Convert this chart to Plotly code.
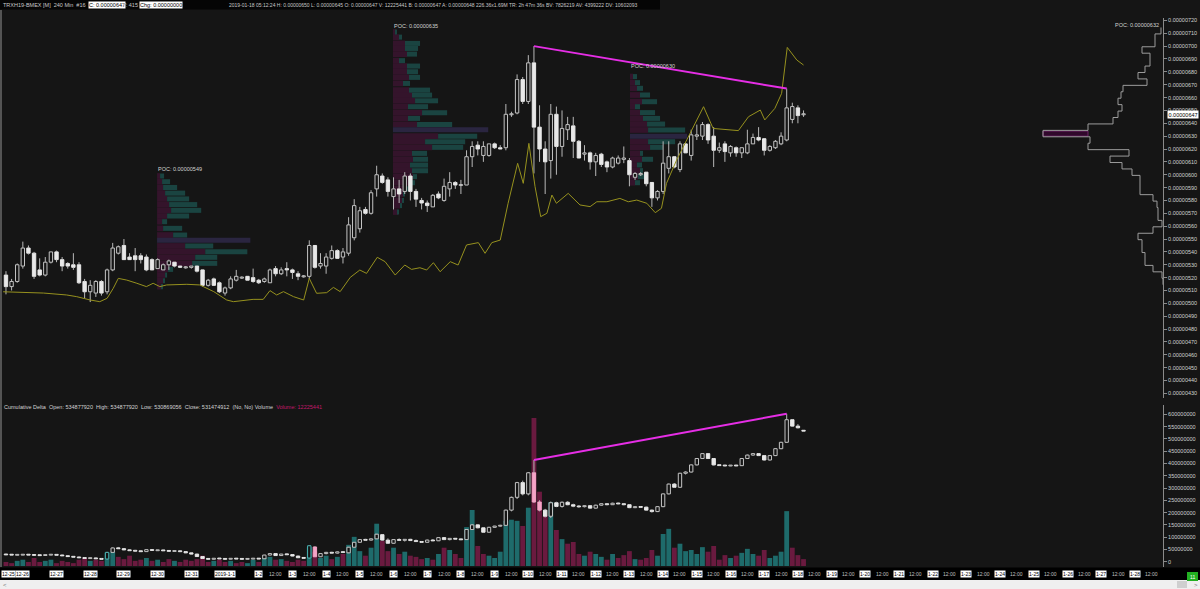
import plotly.graph_objects as go

# ---------------- DATA ----------------
bar_index = list(range(3, 146))  # 240-min bars, index 0 = 2018-12-25 00:00

# price in units of 1e-8
price_open = [522,513,517,529,543,539,526,522,532,540, 534,531,530,530,517,509,508,517,509,526,
              539,545,536,537,537,536,534,527,526,530, 532,529,528,528,529,526,514,519,516,508,
              512,518,520,521,520,518,517,516,527,523, 527,526,523,521,521,545,529,529,535,541,
              536,539,551,558,573,570,589,599,596,583, 589,587,599,587,580,578,575,585,580,589,
              594,592,592,614,623,615,615,624,621,621, 647,648,674,657,687,637,620,611,647,622,
              635,638,626,616,617,610,616,610,606,609, 612,611,598,600,602,594,582,587,605,614,
              604,624,615,630,630,639,630,619,624,617, 621,617,617,624,629,628,619,621,624,627,
              643,652,647]
price_high = [525,519,531,548,545,540,535,536,540,541, 536,532,539,532,519,518,518,518,527,547,
              545,550,539,543,539,538,535,535,531,534, 532,529,529,529,529,526,519,520,517,513,
              521,526,521,521,527,519,520,527,529,528, 532,527,525,522,549,545,539,539,545,542,
              543,567,581,575,575,588,607,601,598,598, 596,602,601,589,582,580,585,587,597,602,
              595,596,619,626,626,626,624,625,623,655, 649,678,676,693,700,654,626,655,653,650,
              645,645,627,623,618,617,617,611,614,615, 622,613,602,602,602,594,588,626,626,614,
              626,625,635,639,641,640,637,625,626,623, 622,620,635,632,637,628,623,627,633,667,
              656,654,650]
price_low = [507,510,516,527,538,519,521,521,531,532, 525,527,526,515,504,501,505,506,507,525,
             538,534,534,525,531,525,526,527,526,526, 528,528,527,527,524,513,513,514,508,506,
             511,517,519,518,516,515,516,516,521,522, 521,519,518,520,519,527,527,523,534,535,
             531,537,549,555,569,569,583,593,583,573, 578,585,580,575,573,571,575,581,579,583,
             589,585,592,606,615,610,614,620,620,619, 645,647,655,655,601,610,585,597,600,614,
             627,613,613,611,604,599,606,602,605,608, 609,591,596,599,591,575,580,585,601,605,
             602,617,611,627,627,624,606,617,610,614, 614,613,616,624,626,615,618,620,623,626,
             640,640,645]
price_close = [513,517,530,543,539,521,522,532,540,534, 529,529,528,516,509,514,517,508,526,543,
               544,534,534,534,534,526,526,534,530,533, 529,528,528,529,525,514,518,514,509,512,
               519,521,520,518,517,516,519,526,523,526, 526,524,521,521,545,528,531,536,541,535,
               540,561,576,572,570,586,600,594,587,589, 585,599,587,581,578,576,584,582,591,594,
               592,592,614,622,620,622,624,621,620,647, 647,674,657,687,637,620,610,647,622,636,
               639,626,613,617,610,615,608,606,613,613, 613,600,601,601,593,582,587,609,614,606,
               624,617,631,631,639,627,619,621,618,622, 617,621,624,629,627,619,622,626,630,652,
               653,646,647]

# cumulative delta, millions
cd_open = [30,29,28,28,29,28,27,26,28,29, 27,24,21,19,16,14,15,12,11,38, 56,53,48,45,44,41,49,46,47,45,
           43,44,41,36,31,21,13,10,14,12, 11,13,12,11,12,13,12,27,33,25, 31,29,23,16,15,60,20,33,38,35,
           40,36,59,79,90,88,93,110,88,75, 90,87,91,86,82,79,88,85,98,90, 95,92,90,131,150,138,120,140,145,148,
           210,262,322,276,362,243,210,185,240,225, 242,232,226,224,228,218,230,236,232,238,
           236,232,220,224,222,210,204,224,276,316, 303,360,365,394,420,440,420,394,392,391,
           392,391,420,434,440,432,414,432,460,486, 578,552,534.9]
cd_high = [31,30,29,30,30,29,28,29,30,30, 28,25,22,20,17,16,16,14,40,58, 60,54,50,48,46,50,50,48,48,46,
           45,45,42,37,32,22,14,15,15,13, 14,14,13,13,14,14,28,34,34,32, 33,30,24,17,66,62,35,40,40,42,
           42,60,80,92,93,95,113,111,95,92, 95,92,93,90,84,90,92,100,99,96, 96,93,133,153,151,140,142,146,150,212,
           265,325,330,365,414,250,215,245,244,245, 246,236,230,230,229,232,238,238,240,240,
           238,234,226,226,224,212,226,278,318,320, 362,368,396,422,442,442,421,396,394,393,
           394,422,436,442,441,434,434,462,488,602, 580,560,534.9]
cd_low = [29,28,27,27,28,26,26,25,27,27, 24,21,18,16,13,12,11,10,10,37, 52,47,44,42,40,40,45,44,44,42,
          41,40,35,30,20,12,9,9,11,10, 10,11,10,10,11,12,11,26,24,24, 28,22,15,14,14,19,19,30,34,33,
          36,35,58,78,86,86,92,85,72,74, 85,82,85,80,78,78,84,84,88,87, 90,88,89,129,136,118,119,138,143,146,
          205,255,270,270,240,205,180,178,222,220, 230,222,220,221,215,216,228,230,231,234,
          230,218,218,220,208,200,202,222,274,300, 301,355,363,392,418,418,392,390,389,389,
          390,390,418,432,430,412,412,430,458,484, 550,543,530.9]
cd_close = [29,28,28,29,28,27,26,28,29,27, 24,21,19,16,14,15,12,11,38,56, 53,48,45,44,41,49,46,47,45,43,
            44,41,36,31,21,13,10,14,12,11, 13,12,11,12,13,12,27,33,25,31, 29,23,16,15,65,20,33,38,35,40,
            38,59,79,90,88,93,112,88,75,90, 87,91,86,82,79,88,85,98,90,95, 92,90,131,150,138,120,140,145,148,210,
            262,322,276,362,243,210,185,240,225,242, 232,226,224,228,218,230,236,232,238,236,
            232,220,224,222,210,204,224,276,316,303, 360,365,394,420,440,420,394,392,391,392,
            391,420,434,440,432,414,432,460,486,578, 552,545,531.5]
cd_pink_bars = [58, 97, 98]
cd_teal_bars = [21, 57]

# volume, millions
volume_m = [7,5,9,11,7,14,7,9,11,5,9,7,5,11,14,9,11,9,
            23,25,16,12,18,9,11,14,9,11,7,12,9,7,11,9,12,18,7,9,11,7,9,5,7,5,11,7,14,16,11,12,9,7,11,9,
            33,25,14,18,12,16,21,37,51,26,18,32,74,44,26,32,21,25,18,16,12,14,11,21,32,28,21,14,68,98,
            35,21,18,14,25,79,81,79,70,102,259,130,88,112,63,47,39,42,21,18,25,21,16,11,21,14,19,26,12,11,
            14,28,18,56,65,32,39,26,28,21,33,25,35,11,19,14,18,23,30,21,18,28,14,18,25,96,32,19,12]

# yellow study line (bar position, value in price units)
study_x = [2.5,9.7,13.8,15.6,18,19.7,21,22.1,23,24.5,26.3,28,29.2,30.4,31.6,35.2,37.5,40,42.3,43.5,
           47,48.8,50,51.2,52.4,54.2,56,57,58.3,60.1,61.3,62.5,64.3,66,67.2,69.1,70.5,72.3,74,75.2,
           76.7,77.9,79.1,80.3,82.1,83.5,85,87.1,88.3,89.5,91,92.4,94.1,95.1,96.1,97.2,98.2,99.3,
           100.2,101,103.1,105.2,107,108.2,110,112.3,113.8,115.3,117.1,118.6,119.7,120.6,122.4,124.2,
           125.4,127.2,128.9,130.4,133.4,135.2,137.3,138.1,139.9,141.1,142.1,143.8,145]
study_y = [509,508,506.5,505.2,502.6,501.3,503.9,511.7,519.4,518.1,515.6,513,515.6,513,514.3,514.8,514.3,
           509.1,502.6,501.3,503.1,503.1,509.9,506.5,509.1,505.2,502.6,519.4,507.8,508.3,512.4,509.1,520.2,
           525.9,523.3,535.8,532.4,522,529.8,526.4,527.7,525.9,531.6,524.6,532.4,529.8,545.4,547.2,538.9,
           547.2,549.2,577.8,608.9,593.3,624.4,590.7,567.4,570,584.2,577.8,585.5,576.5,575.2,579,579,581.6,
           579,580.3,577.8,570.5,573.9,593.3,611.4,627,637.9,652.9,636,635.3,634.3,645.1,650.3,642.6,
           651.6,663.3,699,689.2,685.3]

# session volume profiles: start bar, price rows, sell / buy volume (arbitrary units)
prof_a_start = 29.9
prof_a_price = [599.0,594.6,590.1,585.7,581.2,576.8,572.3,567.9,563.5,558.3,553.1,544.6,540.2,535.8,531.1,526.4,522.0,517.5,513.0]
prof_a_sell = [3,5,6,8,10,12,14,10,5,6,16,28,48,38,35,11,8,6,4]
prof_a_buy = [4,8,14,20,22,28,30,22,5,19,14,28,42,22,25,5,2,1,1]
prof_a_poc, prof_a_poc_vol = 549, 93

prof_b_start = 71.9
prof_b_price = [711,707,702.1,698.2,693.8,688.7,684.5,680.1,675.7,671,665.8,661.9,657.5,652.9,648.2,643.8,639.1,
                630,625.7,621.3,616.6,612,607.5,603.1,598.5,593.8,589,585,580,576,571]
prof_b_sell = [3,6,12,12,14,6,14,14,16,10,16,19,22,15,29,15,24,45,32,39,19,20,17,19,20,19,12,10,9,7,5]
prof_b_buy = [1,3,15,13,10,6,13,11,11,7,21,20,23,20,25,12,35,39,40,31,15,15,18,16,4,3,3,2,2,2,1]
prof_b_poc, prof_b_poc_vol = 635, 95

prof_c_start = 114.1
prof_c_price = [676.3,671.6,667.2,662,656.8,652.9,648.3,643.8,639.4,634.8,625.7,621.3,616.6,612,607.6,603.2,598.5,593.8]
prof_c_sell = [3,5,7,10,12,5,10,13,17,18,18,20,10,12,7,10,8,5]
prof_c_buy = [4,5,6,10,15,5,15,17,18,37,27,13,3,11,5,3,9,5]
prof_c_poc, prof_c_poc_vol = 630, 57

# visible-range profile on the right edge
vbp_price = [712,707,702,697,692,687,682,677,672,667,662,657,652,647,642,637,632,627,622,617,612,607,602,
             597,592,587,582,577,572,567,562,557,552,547,542,537,532,527,522,517]
vbp_vol = [2,8,8,21,13,13,18,25,16,40,42,45,41,45,50,75,120,73,75,34,53,41,31,23,23,23,10,6,5,5,1,10,25,
           21,21,18,18,10,1,0]
vbp_poc = 632

magenta_price = ([97, 142], [700, 667])
magenta_cd = ([97, 142], [414, 602])

price_ticks = list(range(430, 721, 10))
cd_ticks = list(range(0, 600000001, 50000000))

day_labels = ["12-25", "12-26", "12-27", "12-28", "12-29", "12-30", "12-31", "2019-1-1"] + \
             ["1-%d" % d for d in range(2, 29)]
first_visible_bar = 3.4

# ---------------- STYLE ----------------
BG = "#151515"
FONT = "Liberation Sans, Arial, sans-serif"
AX = "#8a8a8a"
TXT = "#d2d2d2"
P, M = 1e-8, 1e6
PROFILE_UNIT = 1 / 5.6   # bar widths per profile volume unit

fig = go.Figure()


def candles(xs, o, h, l, c, scale, min_body, yaxis, up_fill, up_line, dn_fill, dn_line, special=None):
    wx, wy = [], []
    for xi, oi, hi, li, ci in zip(xs, o, h, l, c):
        top, bot = max(oi, ci), min(oi, ci)
        if hi > top:
            wx += [xi, xi, None]; wy += [hi * scale, top * scale, None]
        if li < bot:
            wx += [xi, xi, None]; wy += [bot * scale, li * scale, None]
    fig.add_trace(go.Scatter(x=wx, y=wy, mode="lines", line=dict(color="#b8b8b8", width=1),
                             yaxis=yaxis, hoverinfo="skip"))
    groups = {}
    for xi, oi, ci in zip(xs, o, c):
        key = "up" if ci >= oi else "dn"
        if special:
            for k, (bars, fill, line) in special.items():
                if xi in bars:
                    key = k
        mid = (oi + ci) / 2
        hgt = max(abs(ci - oi), min_body)
        groups.setdefault(key, [[], [], []])
        groups[key][0].append(xi)
        groups[key][1].append(hgt * scale)
        groups[key][2].append((mid - hgt / 2) * scale)
    styles = {"up": (up_fill, up_line), "dn": (dn_fill, dn_line)}
    if special:
        for k, (bars, fill, line) in special.items():
            styles[k] = (fill, line)
    for key, (gx, gy, gb) in groups.items():
        fill, line = styles[key]
        fig.add_trace(go.Bar(x=gx, y=gy, base=gb, width=0.6, yaxis=yaxis,
                             marker=dict(color=fill, line=dict(color=line, width=1)), hoverinfo="skip"))


def profile(start, prices, sell, buy, poc, poc_vol):
    fig.add_trace(go.Bar(orientation="h", y=[p * P for p in prices], x=[s * PROFILE_UNIT for s in sell],
                         base=start, width=4.5 * P, marker=dict(color="#34142b", line=dict(width=0)),
                         hoverinfo="skip"))
    fig.add_trace(go.Bar(orientation="h", y=[p * P for p in prices], x=[b * PROFILE_UNIT for b in buy],
                         base=[start + s * PROFILE_UNIT for s in sell], width=3.9 * P,
                         marker=dict(color="#1a4441", line=dict(width=0)), hoverinfo="skip"))
    fig.add_trace(go.Bar(orientation="h", y=[poc * P], x=[poc_vol * PROFILE_UNIT], base=start,
                         width=3.9 * P, marker=dict(color="#2a2540", line=dict(width=0)), hoverinfo="skip"))


# profiles (behind candles)
profile(prof_a_start, prof_a_price, prof_a_sell, prof_a_buy, prof_a_poc, prof_a_poc_vol)
profile(prof_b_start, prof_b_price, prof_b_sell, prof_b_buy, prof_b_poc, prof_b_poc_vol)
profile(prof_c_start, prof_c_price, prof_c_sell, prof_c_buy, prof_c_poc, prof_c_poc_vol)

# price candles
candles(bar_index, price_open, price_high, price_low, price_close, P, 0.8, "y",
        BG, "#c4c4c4", "#e8e8e8", "#e8e8e8")

# study line
fig.add_trace(go.Scatter(x=study_x, y=[v * P for v in study_y], mode="lines",
                         line=dict(color="#96911e", width=1), yaxis="y", hoverinfo="skip"))

# magenta divergence lines
fig.add_trace(go.Scatter(x=magenta_price[0], y=[v * P for v in magenta_price[1]], mode="lines",
                         line=dict(color="#e62ee6", width=2), yaxis="y", hoverinfo="skip"))

# right-edge volume-by-price outline
ox, oy = [], []
for p, v in zip(vbp_price, vbp_vol):
    ox += [v, v]; oy += [(p + 2.5) * P, (p - 2.5) * P]
poc_i = vbp_price.index(vbp_poc)
poc_neighbour = max(vbp_vol[poc_i - 1], vbp_vol[poc_i + 1])
fig.add_trace(go.Bar(orientation="h", y=[vbp_poc * P], x=[vbp_vol[poc_i] - poc_neighbour],
                     base=poc_neighbour, width=4 * P, xaxis="x2", yaxis="y",
                     marker=dict(color="#30092b", line=dict(color="#6e2468", width=1)), hoverinfo="skip"))
fig.add_trace(go.Scatter(x=ox, y=oy, mode="lines", line=dict(color="#9c9c9c", width=1),
                         xaxis="x2", yaxis="y", hoverinfo="skip"))

# volume bars
vol_col = ["#1e6b6b" if c >= o else "#6a1a3f" for o, c in zip(cd_open, cd_close)]
fig.add_trace(go.Bar(x=bar_index, y=volume_m, width=0.86, yaxis="y2",
                     marker=dict(color=vol_col, line=dict(width=0)), hoverinfo="skip"))

# cumulative delta candles
candles(bar_index, cd_open, cd_high, cd_low, cd_close, M, 3.5, "y3",
        BG, "#c4c4c4", "#e8e8e8", "#e8e8e8",
        special={"pink": (cd_pink_bars, "#f4a3c6", "#f4a3c6"), "teal": (cd_teal_bars, BG, "#48b4b4")})
fig.add_trace(go.Scatter(x=magenta_cd[0], y=[v * M for v in magenta_cd[1]], mode="lines",
                         line=dict(color="#e62ee6", width=2), yaxis="y3", hoverinfo="skip"))

# ---------------- LAYOUT ----------------
W, H = 1200, 589
ML, MR, MT, MB = 3, 37, 18, 22
PW, PH = W - ML - MR, H - MT - MB


def px(xp):
    return (xp - ML) / PW


def py(yp):
    return (H - MB - yp) / PH


tickfont = dict(family=FONT, size=5.5, color=TXT)
fig.update_layout(
    width=W, height=H, margin=dict(l=ML, r=MR, t=MT, b=MB),
    paper_bgcolor="#efefef", plot_bgcolor=BG, showlegend=False, hovermode=False,
    barmode="overlay",
    xaxis=dict(domain=[0, 1], range=[2.47, 209.0], visible=False, anchor="y2"),
    xaxis2=dict(overlaying="x", range=[PW, 0], visible=False, anchor="y"),
    yaxis=dict(domain=[py(398), 1], range=[426.4 * P, 721.87 * P], side="right", anchor="x",
               tickvals=[t * P for t in price_ticks], ticktext=["0.00000%d" % t for t in price_ticks],
               tickfont=tickfont, ticks="outside", ticklen=3, tickcolor=AX, showline=True,
               linecolor=AX, showgrid=False, zeroline=False),
    yaxis2=dict(domain=[0, py(405)], range=[-1.75, 281.75], visible=False, anchor="x"),
    yaxis3=dict(overlaying="y2", range=[-21.6e6, 637.9e6], side="right", anchor="x",
                tickvals=cd_ticks, ticktext=[str(t) for t in cd_ticks], tickfont=tickfont,
                ticks="outside", ticklen=3, tickcolor=AX, showline=True, linecolor=AX,
                showgrid=False, zeroline=False),
)

shapes = [
    # dark chart surface (everything above the scroll bar)
    dict(type="rect", xref="paper", yref="paper", x0=px(0), x1=px(1200), y0=py(580), y1=py(0),
         fillcolor=BG, line=dict(width=0), layer="below"),
    dict(type="rect", xref="paper", yref="paper", x0=px(0), x1=px(660), y0=py(9.5), y1=py(0),
         fillcolor="#050505", line=dict(width=0), layer="below"),
    dict(type="rect", xref="paper", yref="paper", x0=px(0), x1=px(1200), y0=py(580), y1=py(567.5),
         fillcolor="#000000", line=dict(width=0), layer="above"),
    dict(type="rect", xref="paper", yref="paper", x0=px(1177), x1=px(1187), y0=py(588), y1=py(581),
         fillcolor="#cfcfcf", line=dict(width=0), layer="above"),
    dict(type="rect", xref="paper", yref="paper", x0=px(1187), x1=px(1198), y0=py(581), y1=py(572),
         fillcolor="#22b022", line=dict(width=0), layer="above"),
    dict(type="line", xref="paper", yref="paper", x0=px(1), x1=px(1), y0=py(567), y1=py(10),
         line=dict(color="#6a6a6a", width=1.5)),
]

ann = []
small = dict(family=FONT, size=5.5, color=TXT)


def label(x, y, text, xref="paper", yref="paper", xanchor="left", font=None, bg=None):
    d = dict(x=x, y=y, xref=xref, yref=yref, text=text, showarrow=False, xanchor=xanchor,
             yanchor="middle", font=font or small, borderpad=0)
    if bg:
        d["bgcolor"] = bg
    ann.append(d)


hy = py(4.5)
label(px(2), hy, "TRXH19-BMEX [M]  240 Min  #16", font=dict(family=FONT, size=5.5, color="#c8c8c8"))
label(px(88), hy, "C: 0.00000647", font=dict(family=FONT, size=5.5, color="#000"), bg="#ffffff")
label(px(122), hy, "T: 415", font=dict(family=FONT, size=5.5, color="#c8c8c8"))
label(px(139), hy, "Chg: 0.00000000", font=dict(family=FONT, size=5.5, color="#000"), bg="#ffffff")
label(px(228), hy, "2019-01-18 05:12:24 H: 0.00000650 L: 0.00000645 O: 0.00000647 V: 12225441 "
      "B: 0.00000647 A: 0.00000648 226.36x1.69M TR: 2h 47m 36s BV: 7826219 AV: 4399222 DV: 10602093",
      font=dict(family=FONT, size=5, color="#c8c8c8"))

label(px(3), py(406.5),
      "Cumulative Delta  Open: 534877920  High: 534877920  Low: 530869056  Close: 531474912  (No, No) Volume  "
      "<span style='color:#c2186b'>Volume: 12225441</span>")

# POC labels
label(prof_a_start, 604.5 * P, "POC: 0.00000549", xref="x", yref="y")
label(prof_b_start, 715.6 * P, "POC: 0.00000635", xref="x", yref="y")
label(prof_c_start, 684.5 * P, "POC: 0.00000630", xref="x", yref="y")
label(3, 716.4 * P, "POC: 0.00000632", xref="x2", yref="y", xanchor="right")

# current price marker
ann.append(dict(x=1, y=price_close[-1] * P, xref="paper", yref="y", text="0.00000647", showarrow=False,
                xanchor="left", yanchor="middle", xshift=4, bgcolor="#ffffff", borderpad=0.5,
                font=dict(family=FONT, size=5.5, color="#000")))

# time axis labels
ly = py(574)
for k, t in enumerate(day_labels):
    xi = first_visible_bar if k == 0 else 6 * k
    label(xi, ly, t, xref="x", xanchor="center", font=dict(family=FONT, size=5, color="#000"), bg="#ffffff")
    if t.startswith("1-"):
        label(6 * k + 3, ly, "12:00", xref="x", xanchor="center", font=dict(family=FONT, size=5, color="#c0c0c0"))

label(px(1192.5), py(576.5), "11", xanchor="center", font=dict(family=FONT, size=5, color="#ffffff"))
label(px(2), py(584.5), "<", font=dict(family=FONT, size=6, color="#777"))
label(px(1196), py(584.5), ">", xanchor="center", font=dict(family=FONT, size=6, color="#777"))

fig.update_layout(shapes=shapes, annotations=ann)
fig.write_html("out.html", config={"displayModeBar": False},
               post_script="document.body.style.margin='0px';document.body.style.overflow='hidden';"
                           "document.documentElement.style.overflow='hidden';")
